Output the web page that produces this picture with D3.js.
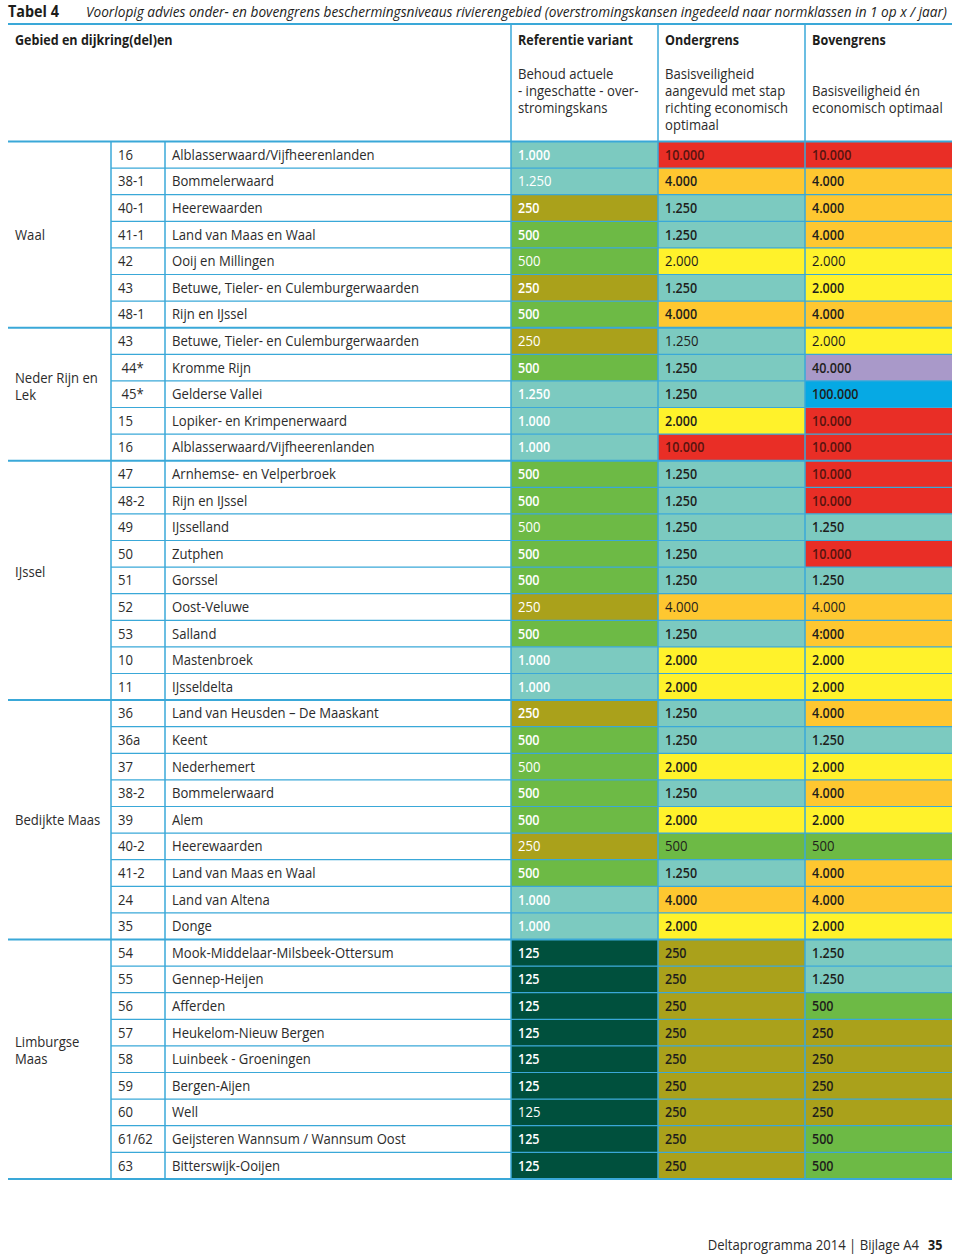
<!DOCTYPE html>
<html><head><meta charset="utf-8">
<script src="https://cdn.jsdelivr.net/npm/d3@7"></script>
<style>
html,body{margin:0;padding:0;background:#fff;}
text{font-family:"Open Sans","Noto Sans",sans-serif;font-stretch:94%;white-space:pre;}
</style></head>
<body>
<svg id="chart" width="960" height="1254"></svg>
<script>
// ---------- DATA ----------
const groups = ["Waal", "Neder Rijn en|Lek", "IJssel", "Bedijkte Maas", "Limburgse|Maas"];
const groupSizes = [7, 5, 9, 9, 9];
const codes = ["16","38-1","40-1","41-1","42","43","48-1",
  "43"," 44*"," 45*","15","16",
  "47","48-2","49","50","51","52","53","10","11",
  "36","36a","37","38-2","39","40-2","41-2","24","35",
  "54","55","56","57","58","59","60","61/62","63"];
const names = ["Alblasserwaard/Vijfheerenlanden","Bommelerwaard","Heerewaarden","Land van Maas en Waal","Ooij en Millingen","Betuwe, Tieler- en Culemburgerwaarden","Rijn en IJssel",
  "Betuwe, Tieler- en Culemburgerwaarden","Kromme Rijn","Gelderse Vallei","Lopiker- en Krimpenerwaard","Alblasserwaard/Vijfheerenlanden",
  "Arnhemse- en Velperbroek","Rijn en IJssel","IJsselland","Zutphen","Gorssel","Oost-Veluwe","Salland","Mastenbroek","IJsseldelta",
  "Land van Heusden \u2013 De Maaskant","Keent","Nederhemert","Bommelerwaard","Alem","Heerewaarden","Land van Maas en Waal","Land van Altena","Donge",
  "Mook-Middelaar-Milsbeek-Ottersum","Gennep-Heijen","Afferden","Heukelom-Nieuw Bergen","Luinbeek - Groeningen","Bergen-Aijen","Well","Geijsteren Wannsum / Wannsum Oost","Bitterswijk-Ooijen"];
const referentie = ["1.000","1.250","250","500","500","250","500",
  "250","500","1.250","1.000","1.000",
  "500","500","500","500","500","250","500","1.000","1.000",
  "250","500","500","500","500","250","500","1.000","1.000",
  "125","125","125","125","125","125","125","125","125"];
const ondergrens = ["10.000","4.000","1.250","1.250","2.000","1.250","4.000",
  "1.250","1.250","1.250","2.000","10.000",
  "1.250","1.250","1.250","1.250","1.250","4.000","1.250","2.000","2.000",
  "1.250","1.250","2.000","1.250","2.000","500","1.250","4.000","2.000",
  "250","250","250","250","250","250","250","250","250"];
const bovengrens = ["10.000","4.000","4.000","4.000","2.000","2.000","4.000",
  "2.000","40.000","100.000","10.000","10.000",
  "10.000","10.000","1.250","10.000","1.250","4.000","4:000","2.000","2.000",
  "4.000","1.250","2.000","4.000","2.000","500","4.000","4.000","2.000",
  "1.250","1.250","500","250","250","250","250","500","500"];
// rows whose values are printed in regular (not bold) weight: [ref, onder, boven]
const regularRows = {1:[1,0,0],4:[1,1,1],7:[1,1,1],14:[1,0,0],17:[1,1,1],23:[1,0,0],26:[1,1,1],36:[1,0,0]};
const classes = [125,250,500,1000,1250,2000,4000,10000,40000,100000];
const classColors = ["#00503d","#aaa11b","#6dba45","#7ccac0","#7ccac0","#fff22b","#fec730","#e92e26","#a999c9","#06a9e4"];
const columnTitles = ["Referentie variant","Ondergrens","Bovengrens"];
const columnSubtitles = [["Behoud actuele","- ingeschatte - over-","stromingskans"],
  ["Basisveiligheid","aangevuld met stap","richting economisch","optimaal"],
  ["","Basisveiligheid \u00e9n","economisch optimaal"]];

// ---------- LAYOUT ----------
const svg = d3.select("#chart");
const blue = "#3aa8d8";
const X = {left:8, grp:111, code:165, ref:511, ond:658, bov:805, right:952};
const headTop = 24, bodyTop = 141.5, rowH = 26.6;
const nRows = codes.length;
const y = d3.scaleBand().domain(d3.range(nRows)).range([bodyTop, bodyTop + nRows*rowH]).padding(0);
const bodyBottom = bodyTop + nRows*rowH;
const color = d3.scaleOrdinal().domain(classes).range(classColors);
const num = s => +s.replace(/\D/g, "");
const fs = 14;

// horizontal fit factor so the substitute font matches the reference's narrower type
function fit(str, target, size, weight, style) {
  const t = svg.append("text").attr("font-size", size).attr("font-weight", weight || "normal")
    .attr("font-style", style || "normal").text(str);
  const w = t.node().getComputedTextLength();
  t.remove();
  return target / w;
}
const fR = fit("Alblasserwaard/Vijfheerenlanden", 203, fs);
const fB = fit("Gebied en dijkring(del)en", 159, fs, "bold");
const fV = fit("Referentie variant", 114, fs, "bold");
const fI = fit("Voorlopig advies onder- en bovengrens beschermingsniveaus rivierengebied (overstromingskansen ingedeeld naar normklassen in 1 op x / jaar)", 861, 14.5, "normal", "italic");
const fT = fit("Tabel 4", 51, 15.5, "bold");
const fH = (fB + fV) / 2;
const tf = (x, yy, f) => `translate(${x},${yy}) scale(${f},1)`;

// Title
svg.append("text").attr("transform", tf(8, 17, fT)).attr("font-size", 15.5).attr("font-weight", "bold").attr("fill", "#1d1d1b").text("Tabel 4");
svg.append("text").attr("transform", tf(86, 17, fI)).attr("font-size", 14.5).attr("font-style", "italic").attr("fill", "#1d1d1b")
  .text("Voorlopig advies onder- en bovengrens beschermingsniveaus rivierengebied (overstromingskansen ingedeeld naar normklassen in 1 op x / jaar)");

// Header
svg.append("text").attr("transform", tf(15, 45, fH)).attr("font-size", fs).attr("font-weight", "bold").attr("fill", "#1d1d1b").text("Gebied en dijkring(del)en");
const colX = [X.ref, X.ond, X.bov];
columnTitles.forEach((t, i) => {
  svg.append("text").attr("transform", tf(colX[i] + 7, 45, fH)).attr("font-size", fs).attr("font-weight", "bold").attr("fill", "#1d1d1b").text(t);
  columnSubtitles[i].forEach((s, j) => {
    svg.append("text").attr("transform", tf(colX[i] + 7, 79 + j*17, fR)).attr("font-size", fs).attr("fill", "#2b2b2b").text(s);
  });
});

// Cells
const cols = [referentie, ondergrens, bovengrens];
cols.forEach((vals, ci) => {
  const x0 = colX[ci], x1 = ci < 2 ? colX[ci+1] : X.right;
  svg.append("g").selectAll("rect").data(vals).join("rect")
    .attr("x", x0).attr("y", (d, i) => y(i)).attr("width", x1 - x0).attr("height", y.bandwidth())
    .attr("fill", d => color(num(d)));
  svg.append("g").selectAll("text").data(vals).join("text")
    .attr("font-size", fs)
    .each(function(d, i) {
      const reg = regularRows[i] && regularRows[i][ci];
      d3.select(this).attr("font-weight", reg ? "normal" : "600")
        .attr("transform", tf(x0 + 7, y(i) + y.bandwidth()/2 + 5, reg ? fR : fH));
    })
    .attr("fill", d => ci === 0 ? "#ffffff" : (num(d) === 10000 ? "#57140f" : "#1e1e1c"))
    .text(d => d);
});

// Codes & names
svg.append("g").selectAll("text").data(codes).join("text")
  .attr("transform", (d, i) => tf(X.grp + 7, y(i) + y.bandwidth()/2 + 5, fR))
  .attr("font-size", fs).attr("fill", "#2b2b2b").text(d => d);
svg.append("g").selectAll("text").data(names).join("text")
  .attr("transform", (d, i) => tf(X.code + 7, y(i) + y.bandwidth()/2 + 5, fR))
  .attr("font-size", fs).attr("fill", "#2b2b2b").text(d => d);

// Row lines (within groups)
const starts = d3.cumsum([0, ...groupSizes]);
const groupStart = new Set(starts);
const rowLines = d3.range(1, nRows).filter(i => !groupStart.has(i));
svg.append("g").selectAll("line").data(rowLines).join("line")
  .attr("x1", X.grp).attr("x2", X.right).attr("y1", i => y(i)).attr("y2", i => y(i))
  .attr("stroke", blue).attr("stroke-width", 1.2);
// Group lines
svg.append("g").selectAll("line").data(starts).join("line")
  .attr("x1", X.left).attr("x2", X.right).attr("y1", i => i < nRows ? y(i) : bodyBottom).attr("y2", i => i < nRows ? y(i) : bodyBottom)
  .attr("stroke", blue).attr("stroke-width", 2);
// Title rule
svg.append("line").attr("x1", X.left).attr("x2", X.right).attr("y1", headTop).attr("y2", headTop).attr("stroke", blue).attr("stroke-width", 2);
// Vertical lines
[X.grp, X.code].forEach(x => svg.append("line").attr("x1", x).attr("x2", x).attr("y1", bodyTop).attr("y2", bodyBottom).attr("stroke", blue).attr("stroke-width", 1.5));
[X.ref, X.ond, X.bov].forEach(x => svg.append("line").attr("x1", x).attr("x2", x).attr("y1", headTop).attr("y2", bodyBottom).attr("stroke", blue).attr("stroke-width", 1.5));

// Group labels
const labelShift = [0, -8, -8, 0, -9];
groups.forEach((g, gi) => {
  const lines = g.split("|");
  const top = y(starts[gi]), bot = starts[gi+1] < nRows ? y(starts[gi+1]) : bodyBottom;
  const cy = (top + bot)/2 + labelShift[gi];
  lines.forEach((l, j) => {
    svg.append("text").attr("transform", tf(15, cy + 5 - (lines.length - 1)*17/2 + j*17, fR))
      .attr("font-size", fs).attr("fill", "#2b2b2b").text(l);
  });
});

// Footer
svg.append("text").attr("transform", tf(919, 1250, fR)).attr("text-anchor", "end").attr("font-size", 14).attr("fill", "#2b2b2b").text("Deltaprogramma 2014 | Bijlage A4");
svg.append("text").attr("transform", tf(928, 1250, fH)).attr("font-size", 14).attr("font-weight", "bold").attr("fill", "#1d1d1b").text("35");
</script>
</body></html>
